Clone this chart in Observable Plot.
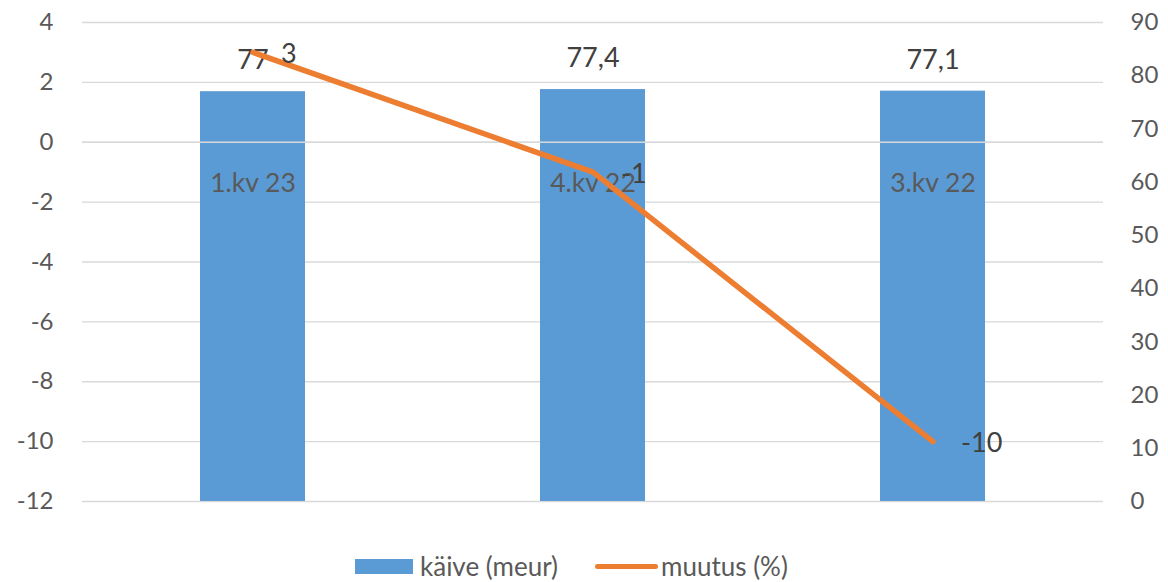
<!DOCTYPE html>
<html>
<head>
<meta charset="utf-8">
<script src="https://cdn.jsdelivr.net/npm/d3@7"></script>
<script src="https://cdn.jsdelivr.net/npm/@observablehq/plot@0.6"></script>
<style>
  body { margin: 0; background: #fff; font-family: Lato, "Open Sans", sans-serif; }
  #wrap { position: relative; width: 1168px; height: 582px; }
  #legend { position: absolute; left: 355px; top: 548px; height: 36px; display: flex; align-items: center; font-size: 26px; color: #595959; }
  .sw-bar { width: 58px; height: 15px; background: #5b9bd5; margin-right: 7px; }
  .sw-line { width: 63px; height: 5px; border-radius: 3px; background: #ed7d31; margin-left: 37px; margin-right: 3px; }
</style>
</head>
<body>
<div id="wrap">
  <div id="chart"></div>
  <div id="legend">
    <div class="sw-bar"></div><span>käive (meur)</span>
    <div class="sw-line"></div><span>muutus (%)</span>
  </div>
</div>
<script>
const categories = ["1.kv 23", "4.kv 22", "3.kv 22"];
const kaive = [77, 77.4, 77.1];          // right axis (0–90)
const muutus = [3, -1, -10];             // left axis (-12–4)
const leftTicks = [-12, -10, -8, -6, -4, -2, 0, 2, 4];
const rightTicks = [0, 10, 20, 30, 40, 50, 60, 70, 80, 90];

const L0 = -12, L1 = 4, R0 = 0, R1 = 90;
const toLeft = v => L0 + (v - R0) * (L1 - L0) / (R1 - R0);
const toRight = v => R0 + (v - L0) * (R1 - R0) / (L1 - L0);

const rows = categories.map((c, i) => ({cat: c, kaive: kaive[i], kaiveL: toLeft(kaive[i]), muutus: muutus[i]}));
const fmt = v => String(v).replace(".", ",");

const chart = Plot.plot({
  width: 1168,
  height: 540,
  marginLeft: 82,
  marginRight: 65,
  marginTop: 22,
  marginBottom: 39,
  style: {fontFamily: "Lato, 'Open Sans', sans-serif", fontSize: "24px", color: "#595959", background: "#fff"},
  x: {domain: categories, paddingInner: 0.69, paddingOuter: 0.345, axis: null},
  y: {domain: [L0, L1], axis: null},
  marks: [
    Plot.ruleY(leftTicks, {stroke: "#d9d9d9", strokeWidth: 1.3}),
    Plot.barY(rows, {x: "cat", y1: L0, y2: "kaiveL", fill: "#5b9bd5"}),
    Plot.ruleY([0], {stroke: "#d9d9d9", strokeWidth: 1.3}),
    Plot.text(rows, {x: "cat", y: 0, text: "cat", dy: 41, fill: "#595959", fontSize: 26.5}),
    Plot.text(rows, {x: "cat", y: "kaiveL", text: d => fmt(d.kaive), dy: -31, fill: "#404040", fontSize: 27}),
    Plot.lineY(rows, {x: "cat", y: "muutus", stroke: "#ed7d31", strokeWidth: 5.5, strokeLinecap: "round", strokeLinejoin: "round"}),
    Plot.text(rows, {x: "cat", y: "muutus", text: d => String(d.muutus), dx: 28, dy: 2, textAnchor: "start", fill: "#404040", fontSize: 27}),
    Plot.axisY(leftTicks, {anchor: "left", tickSize: 0, tickPadding: 29, label: null, tickFormat: d => String(d), fill: "#595959", fontSize: 24}),
    Plot.axisY(rightTicks.map(toLeft), {anchor: "right", tickSize: 0, tickPadding: 27, label: null, tickFormat: d => String(Math.round(toRight(d))), fill: "#595959", fontSize: 24})
  ]
});
document.getElementById("chart").appendChild(chart);
</script>
</body>
</html>
